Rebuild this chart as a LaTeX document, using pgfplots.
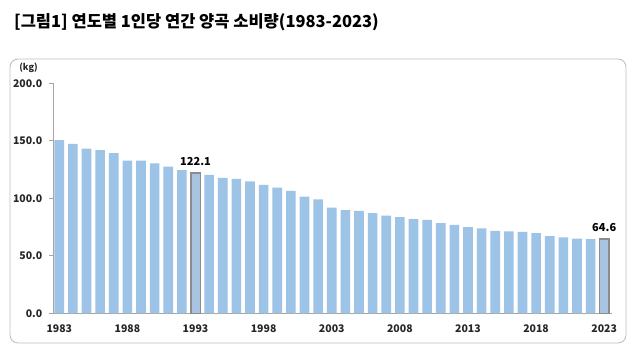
\documentclass[border=0pt]{standalone}
\usepackage{fontspec}
\setmainfont{Noto Sans CJK KR}
\usepackage{pgfplots}
\pgfplotsset{compat=1.18}
\usepackage{pgfplotstable}
\definecolor{barblue}{HTML}{9DC3E6}
\definecolor{hlfill}{HTML}{A9C4E0}
\definecolor{hlborder}{HTML}{8C8C8C}
\definecolor{axisgray}{HTML}{A6A6A6}
\definecolor{framegray}{HTML}{BFBFBF}
\definecolor{txt}{HTML}{262626}

\pgfplotstableread{
year value
1983 150.5
1984 147.3
1985 143.3
1986 141.8
1987 139.2
1988 132.8
1989 132.8
1990 130.4
1991 127.6
1992 124.4
1994 120.3
1995 117.7
1996 117.0
1997 114.7
1998 111.7
1999 109.2
2000 106.4
2001 101.4
2002 99.0
2003 91.8
2004 89.8
2005 89.0
2006 87.2
2007 85.0
2008 83.7
2009 82.0
2010 81.2
2011 78.5
2012 76.8
2013 75.0
2014 73.9
2015 71.6
2016 71.3
2017 70.7
2018 69.8
2019 67.2
2020 66.1
2021 64.9
2022 64.6
}\maindata

\pgfplotstableread{
year value
1993 122.1
2023 64.6
}\hldata

\begin{document}
\begin{tikzpicture}[x=1pt,y=1pt]
\path (0pt,0pt) rectangle (636pt,354pt);
\draw[framegray, line width=0.9pt, rounded corners=8pt] (10pt,11pt) rectangle (626pt,295pt);
\node[anchor=base west, font=\fontsize{16.5}{19}\selectfont\bfseries, text=black, inner sep=0pt] at (14pt,326pt) {[그림1] 연도별 1인당 연간 양곡 소비량(1983-2023)};
\node[font=\fontsize{9}{11}\selectfont\bfseries, text=txt, inner sep=0pt] at (28.5pt,286pt) {(kg)};
\begin{axis}[
  at={(53.3pt,40.7pt)}, anchor=south west,
  scale only axis, width=558.4pt, height=230pt,
  xmin=1982.56, xmax=2023.55, ymin=0, ymax=200,
  axis x line*=bottom, axis y line*=left,
  axis line style={draw=axisgray, line width=0.8pt, -},
  xtick={1983,1988,...,2023},
  xticklabels={1983,1988,1993,1998,2003,2008,2013,2018,2023},
  xtick style={draw=none},
  ytick={0,50,...,200},
  ytick style={draw=axisgray, line width=0.8pt},
  tick align=outside, major tick length=4.5pt,
  /pgf/number format/fixed, /pgf/number format/fixed zerofill, /pgf/number format/precision=1,
  /pgf/number format/assume math mode=true,
  ticklabel style={font=\fontsize{10.5}{12}\selectfont\bfseries, text=txt},
  xticklabel style={yshift=-3pt},
  yticklabel style={xshift=-3pt},
  ybar, bar width=9.6pt, bar shift=0pt,
  clip=false,
]
\addplot[fill=barblue, draw=none] table[x=year, y=value] {\maindata};
\addplot[fill=hlfill, draw=hlborder, line width=1.6pt,
  nodes near coords, point meta=explicit symbolic,
  every node near coord/.append style={font=\fontsize{11}{13}\selectfont\bfseries, text=black, yshift=3pt}]
  table[x=year, y=value, meta=value] {\hldata};
\end{axis}
\end{tikzpicture}
\end{document}
